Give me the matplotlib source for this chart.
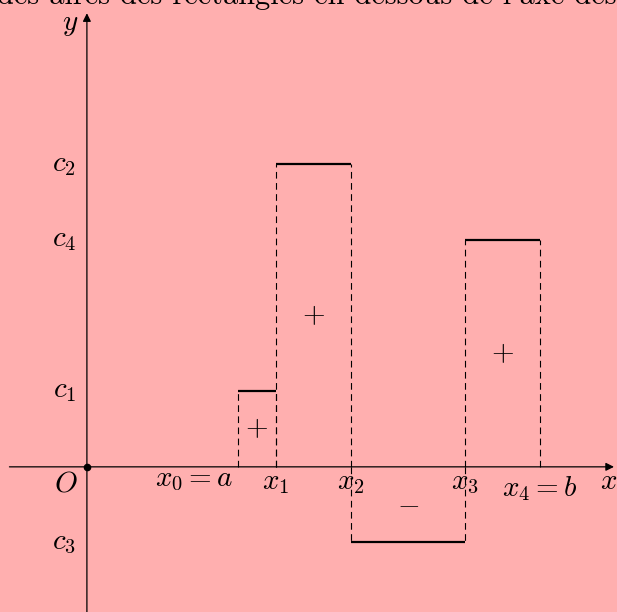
import matplotlib.pyplot as plt

plt.rcParams['mathtext.fontset'] = 'cm'
plt.rcParams['font.family'] = 'cmr10'
plt.rcParams['axes.unicode_minus'] = False

# subdivision points and step values
x_pts = [4, 5, 7, 10, 12]
c_vals = [2, 8, -2, 6]
x_names = [r'$x_0 = a$', r'$x_1$', r'$x_2$', r'$x_3$', r'$x_4 = b$']
c_names = [r'$c_1$', r'$c_2$', r'$c_3$', r'$c_4$']
signs = [r'$+$', r'$+$', r'$-$', r'$+$']
sign_y = [1, 4, -1, 3]

fs = 21
bg = '#ffafaf'
fig = plt.figure(figsize=(6.17, 6.12), dpi=100, facecolor=bg)
ax = fig.add_axes([0, 0, 1, 1])
ax.set_facecolor(bg)
ax.set_xlim(-2.30, 14.03)
ax.set_ylim(-3.84, 12.35)
ax.axis('off')

# axes with arrow heads
ax.annotate('', xy=(13.95, 0), xytext=(-2.05, 0),
            arrowprops=dict(arrowstyle='-|>', lw=0.9, color='black', mutation_scale=12, shrinkA=0, shrinkB=0))
ax.annotate('', xy=(0, 12.0), xytext=(0, -3.9),
            arrowprops=dict(arrowstyle='-|>', lw=0.9, color='black', mutation_scale=12, shrinkA=0, shrinkB=0))
ax.plot([0], [0], 'o', color='black', ms=4.5)
ax.text(-0.45, 11.7, r'$y$', fontsize=fs, ha='center', va='center')
ax.text(13.8, -0.4, r'$x$', fontsize=fs, ha='center', va='center')
ax.text(-0.55, -0.45, r'$O$', fontsize=fs, ha='center', va='center')

# step function
for i, c in enumerate(c_vals):
    x_l, x_r = x_pts[i], x_pts[i + 1]
    ax.plot([x_l, x_r], [c, c], color='black', lw=1.6, solid_capstyle='butt')
    for xv in (x_l, x_r):
        ax.plot([xv, xv], [0, c], color='black', lw=0.8, ls=(0, (6, 4)))
    ax.text((x_l + x_r) / 2, sign_y[i], signs[i], fontsize=fs, ha='center', va='center')
    ax.text(-0.6, c, c_names[i], fontsize=fs, ha='center', va='center')

# labels under the x axis
for i, (xv, name) in enumerate(zip(x_pts, x_names)):
    if i == 0:
        ax.text(xv - 0.12, -0.35, name, fontsize=fs, ha='right', va='center')
    elif i == len(x_pts) - 1:
        ax.text(xv, -0.58, name, fontsize=fs, ha='center', va='center')
    else:
        ax.text(xv, -0.42, name, fontsize=fs, ha='center', va='center')

fig.text(-0.005, 0.994, "des aires des rectangles en dessous de l'axe des abscisses.",
         fontsize=21.8, ha='left', va='baseline')

fig.savefig('out.png', dpi=100, facecolor=bg)
